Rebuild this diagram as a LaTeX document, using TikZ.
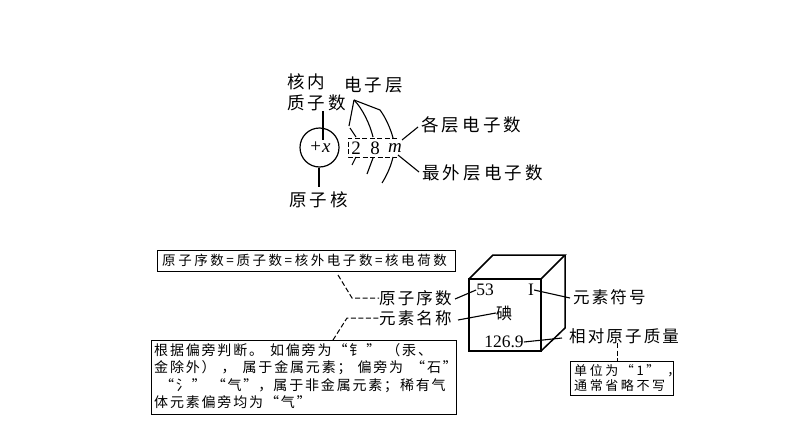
\documentclass[tikz,border=0pt]{standalone}
\usepackage{fontspec}
\setmainfont{Liberation Serif}
\newfontfamily\cjk{Noto Sans CJK SC}
\tikzset{x=1pt,y=-1pt,
 labw/.style={anchor=west,inner sep=0pt,font=\cjk\fontsize{17.5}{21}\selectfont\addfontfeature{LetterSpace=18}},
 labs/.style={anchor=west,inner sep=0pt,font=\cjk\fontsize{16.5}{21}\selectfont\addfontfeature{LetterSpace=13}},
 num/.style={font=\fontsize{17.5}{18}\selectfont,inner sep=0pt},
 ln/.style={line width=1.1pt},
 dsh/.style={line width=1pt,dash pattern=on 5pt off 2.5pt},
 note/.style={draw,line width=1.4pt,anchor=north west,inner sep=0pt},
 notet/.style={anchor=north west,inner sep=0pt,align=left}}
\begin{document}
\begin{tikzpicture}
\useasboundingbox (0,0) rectangle (794,447);
\node[labw] (hn) at (287,82) {核内};
\node[labw] (zz) at (287,103) {质子数};
\node[labw] (dz) at (344,85) {电子层};
\node[labw] (gc) at (421,125) {各层电子数};
\node[labw] (zw) at (422,173) {最外层电子数};
\node[labw] (yz) at (289,200) {原子核};
\node[draw,circle,line width=1.2pt,minimum size=39pt,inner sep=0pt] (nuc) at (319.5,147.5) {};
\node[font=\fontsize{19}{19}\selectfont,inner sep=0pt] (px) at (320.5,147) {+\kern1pt\textit{x}};
\coordinate (zb) at (323,111);
\coordinate (zc) at (323,140);
\draw[ln] (zb) -- (zc);
\coordinate (yt) at (319,187);
\draw[ln] (nuc.south -| yt) -- (yt);
\coordinate (top) at (354,100);
\draw[ln] (top) -- (349,126);
\draw[ln] (350,128) -- (356,137);
\draw[ln] (top) .. controls (362,108) and (370,124) .. (373,137);
\draw[ln] (top) -- (380,110) .. controls (386,118) and (391,130) .. (393,138);
\draw[ln] (356,157) -- (352,165);
\draw[ln] (373,158) -- (367,174);
\draw[ln] (393,157) .. controls (391,166) and (387,175) .. (382,183);
\draw[dsh,line width=.8pt] (397,138) -- (348,138) -- (348,157) -- (397,157);
\node[num,font=\fontsize{19}{19}\selectfont] (n2) at (356,148) {2};
\node[num,font=\fontsize{19}{19}\selectfont] (n8) at (375,148) {8};
\node[num,font=\fontsize{19}{19}\selectfont] (nm) at (395,148) {\textit{m}};
\draw[ln] (402,140) -- (418,127);
\draw[ln] (398,155) -- (419,172);

\node[note,minimum width=298pt,minimum height=21pt] (b1) at (157,250) {};
\node[notet,anchor=west,font=\cjk\fontsize{13.5}{16}\selectfont\addfontfeature{LetterSpace=19}] (b1t) at (162,260.5) {原子序数=质子数=核外电子数=核电荷数};
\node[labs] (yx) at (379,298) {原子序数};
\node[labs] (ys) at (379,318) {元素名称};
\coordinate (d1) at (352,298);
\coordinate (d2) at (347,318);
\coordinate (d1s) at (338,275);
\coordinate (d2s) at (333,340);
\draw[dsh] (d1s) -- (d1) -- (yx.west);
\draw[dsh] (d2s) -- (d2) -- (ys.west);
\node[note,minimum width=305pt,minimum height=73.5pt] (b2) at (151,340) {};
\node[notet,font=\cjk\fontsize{14}{17.3}\selectfont\addfontfeature{LetterSpace=13}] (b2t) at (154,343.5) {根据偏旁判断。\kern7pt 如偏旁为\kern2pt“钅\kern3pt”\kern6pt（汞、\\金除外）\kern6pt，\kern7pt 属于金属元素；\kern6pt 偏旁为\kern8pt“石”\\\kern6pt“氵”\kern6pt“气”\kern1pt，\kern1pt 属于非金属元素；稀有气\\体元素偏旁均为\kern2pt“气”};

\coordinate (f1) at (469,279);
\coordinate (f2) at (541,279);
\coordinate (f3) at (541,351);
\coordinate (b1c) at (493,255);
\coordinate (b2c) at (565,255);
\coordinate (b3c) at (565,328);
\draw[line width=1.5pt] (f1) rectangle (f3);
\draw[line width=1.5pt] (f1) -- (b1c) -- (b2c) -- (f2);
\draw[line width=1.5pt] (b2c) -- (b3c) -- (f3);
\node[num] (v53) at (485,290) {53};
\node[num] (vi) at (531,290) {I};
\node[inner sep=0pt,font=\cjk\fontsize{16}{16}\selectfont] (vd) at (504,313) {碘};
\node[num] (vm) at (504,342) {126.9};
\node[labs] (fh) at (573,297) {元素符号};
\node[labs] (xd) at (569,336) {相对原子质量};
\coordinate (c1) at (455,299);
\coordinate (c2) at (458,320);
\coordinate (c3) at (570,298);
\coordinate (c4) at (562,338);
\draw[ln] (c1) -- (v53.west);
\draw[ln] (c2) -- (vd.west);
\draw[ln] (vi.east) -- (c3);
\draw[ln] (vm.east) -- (c4);
\node[note,minimum width=103pt,minimum height=34pt] (b3) at (570,361) {};
\node[notet,font=\cjk\fontsize{13}{15.5}\selectfont\addfontfeature{LetterSpace=20}] (b3t) at (574,364) {单位为“1”\kern8pt，\\通常省略不写};
\coordinate (c5) at (617,343);
\draw[dsh] (c5) -- (c5 |- b3.north);
\end{tikzpicture}
\end{document}
